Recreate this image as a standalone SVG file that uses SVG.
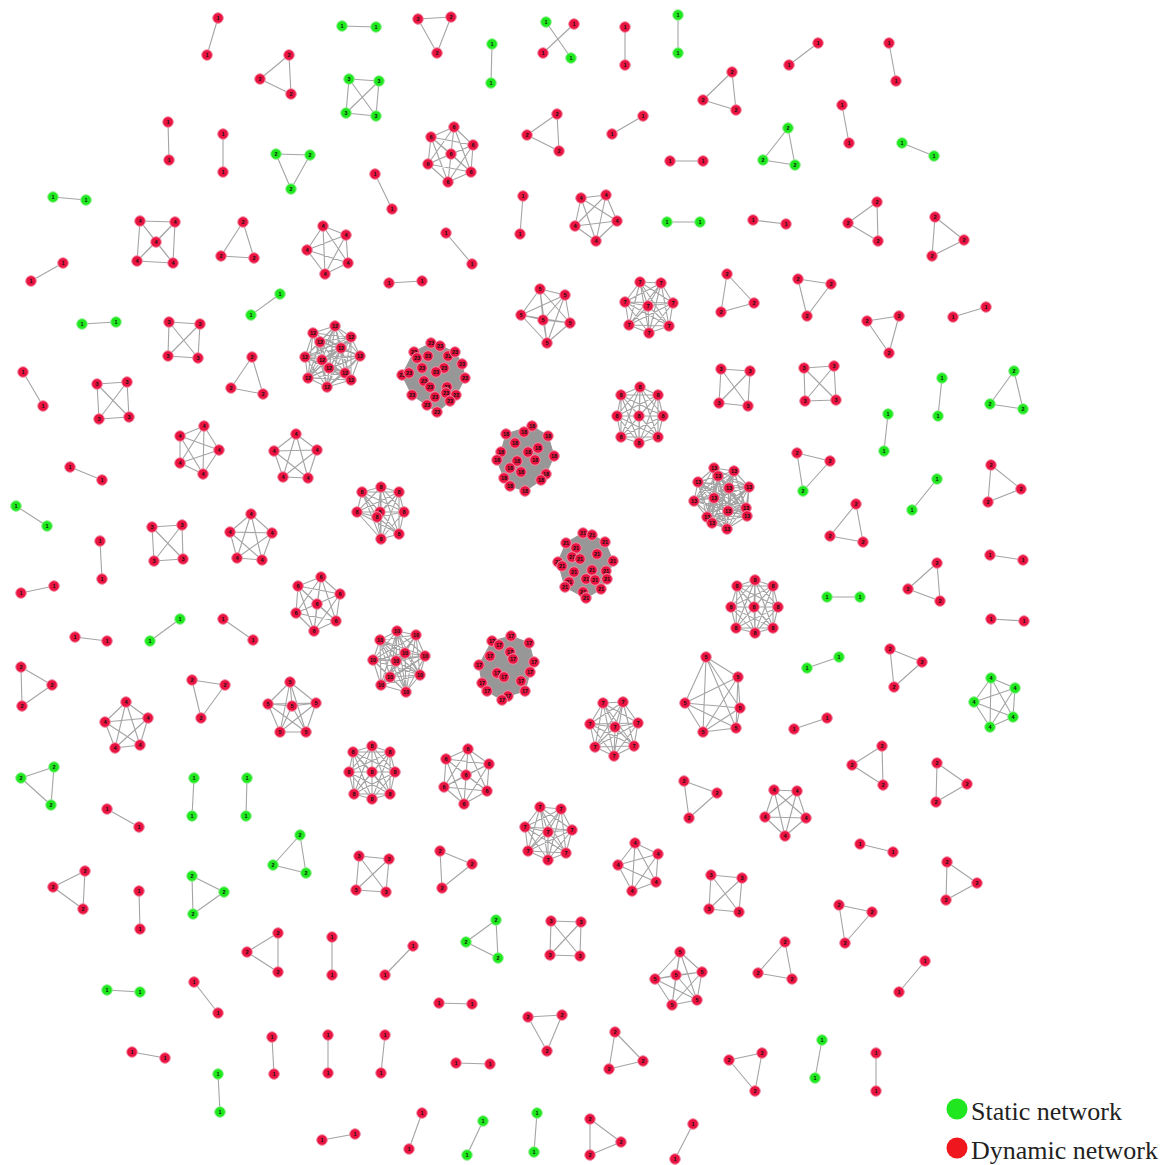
<svg xmlns="http://www.w3.org/2000/svg" xmlns:xlink="http://www.w3.org/1999/xlink" width="1172" height="1165" viewBox="0 0 1172 1165">
<style>
.e path{fill:none;stroke:#a4a4a4;stroke-width:1.1;stroke-linejoin:round}
.e path.h{fill:#979797;stroke:#979797}
.R circle{fill:#ea1442;stroke:#f38aa2;stroke-width:1}
.G circle{fill:#1fe81f;stroke:#90f090;stroke-width:1}
.n text{font-family:"Liberation Sans",Arial,sans-serif;font-size:5.5px;font-weight:bold;text-anchor:middle;fill:#111}
.lg{font-family:"Liberation Serif","Times New Roman",serif;font-size:26px;fill:#222}
</style>
<defs>
<g id="r1" class="n R"><circle r="5.3"/><text y="2">1</text></g>
<g id="r2" class="n R"><circle r="5.3"/><text y="2">2</text></g>
<g id="r3" class="n R"><circle r="5.3"/><text y="2">3</text></g>
<g id="r4" class="n R"><circle r="5.3"/><text y="2">4</text></g>
<g id="r5" class="n R"><circle r="5.3"/><text y="2">5</text></g>
<g id="r6" class="n R"><circle r="5.3"/><text y="2">6</text></g>
<g id="r7" class="n R"><circle r="5.3"/><text y="2">7</text></g>
<g id="r8" class="n R"><circle r="5.3"/><text y="2">8</text></g>
<g id="r10" class="n R"><circle r="5.3"/><text y="2">10</text></g>
<g id="r12" class="n R"><circle r="5.3"/><text y="2">12</text></g>
<g id="r13" class="n R"><circle r="5.3"/><text y="2">13</text></g>
<g id="r17" class="n R"><circle r="5.3"/><text y="2">17</text></g>
<g id="r18" class="n R"><circle r="5.3"/><text y="2">18</text></g>
<g id="r21" class="n R"><circle r="5.3"/><text y="2">21</text></g>
<g id="r23" class="n R"><circle r="5.3"/><text y="2">23</text></g>
<g id="g1" class="n G"><circle r="5.3"/><text y="2">1</text></g>
<g id="g2" class="n G"><circle r="5.3"/><text y="2">2</text></g>
<g id="g3" class="n G"><circle r="5.3"/><text y="2">3</text></g>
<g id="g4" class="n G"><circle r="5.3"/><text y="2">4</text></g>
</defs>
<rect width="1172" height="1165" fill="#fff"/>
<g id="connectors" class="e">
<path d="M218 18L207 55"/>
<path d="M289 55L260 79L291 94Z"/>
<path d="M342 26L376 27"/>
<path d="M418 19L451 17L437 53Z"/>
<path d="M546 22L571 58"/>
<path d="M574 24L543 53"/>
<path d="M492 44L491 83"/>
<path d="M349 79L379 81L376 116L346 113Z M349 79L376 116M379 81L346 113"/>
<path d="M625 27L625 65"/>
<path d="M678 15L678 53"/>
<path d="M818 43L789 65"/>
<path d="M889 43L896 81"/>
<path d="M732 72L703 100L736 110Z"/>
<path d="M557 114L527 135L559 151Z"/>
<path d="M454 127L431 137L473 145L451 154L428 164L471 172L448 182Z M454 127L473 145L428 164L448 182L431 137L451 154L471 172Z M454 127L451 154L448 182L473 145L471 172L431 137L428 164Z"/>
<path d="M168 122L169 160"/>
<path d="M223 134L223 172"/>
<path d="M276 154L310 155L291 189Z"/>
<path d="M375 174L392 209"/>
<path d="M612 134L643 116"/>
<path d="M670 161L703 161"/>
<path d="M788 128L763 160L795 165Z"/>
<path d="M842 105L849 143"/>
<path d="M902 143L934 156"/>
<path d="M53 197L86 200"/>
<path d="M140 221L175 222L156 242L137 261L173 263Z M140 221L156 242L173 263L175 222L137 261Z"/>
<path d="M243 222L221 256L254 258Z"/>
<path d="M323 226L346 235L307 250L348 263L325 274Z M323 226L307 250L325 274L346 235L348 263Z"/>
<path d="M446 233L472 264"/>
<path d="M389 283L422 281"/>
<path d="M523 196L520 234"/>
<path d="M581 198L606 195L575 226L617 221L596 241Z M581 198L575 226L596 241L606 195L617 221Z"/>
<path d="M667 222L700 222"/>
<path d="M753 220L786 224"/>
<path d="M877 202L848 223L878 241Z"/>
<path d="M935 217L964 240L932 256Z"/>
<path d="M31 281L63 263"/>
<path d="M251 315L280 294"/>
<path d="M82 324L116 322"/>
<path d="M169 322L200 324L198 358L168 356Z M169 322L198 358M200 324L168 356"/>
<path d="M252 357L231 388L263 394Z"/>
<path d="M335 326L313 333L351 337L320 342L341 348L305 357L360 356L322 360L329 368L345 373L308 378L351 380L327 387Z M335 326L351 337L341 348L360 356L329 368L308 378L327 387L313 333L320 342L305 357L322 360L345 373L351 380Z M335 326L320 342L360 356L345 373L327 387L351 337L305 357L329 368L351 380L313 333L341 348L322 360L308 378Z M335 326L341 348L329 368L327 387L320 342L322 360L351 380L351 337L360 356L308 378L313 333L305 357L345 373Z M335 326L305 357L308 378L351 337L322 360L327 387L341 348L345 373L313 333L360 356L351 380L320 342L329 368Z M335 326L360 356L327 387L305 357L351 380L341 348L308 378L320 342L345 373L351 337L329 368L313 333L322 360Z"/>
<path class="h" d="M431 343L440 346L455 352L462 364L465 378L456 395L450 401L437 412L427 405L412 395L402 375L414 352Z"/>
<path d="M540 289L565 295L570 323L547 343L521 315Z M540 289L570 323L521 315L565 295L547 343Z M543 320L540 289M543 320L565 295M543 320L570 323M543 320L547 343M543 320L521 315"/>
<path d="M640 282L661 283L673 303L669 326L649 333L629 325L625 302Z M640 282L673 303L649 333L625 302L661 283L669 326L629 325Z M640 282L669 326L625 302L673 303L629 325L661 283L649 333Z M648 306L640 282M648 306L661 283M648 306L673 303M648 306L669 326M648 306L649 333M648 306L629 325M648 306L625 302"/>
<path d="M727 274L721 312L754 303Z"/>
<path d="M798 279L831 284L807 316Z"/>
<path d="M867 321L899 316L889 353Z"/>
<path d="M953 317L986 307"/>
<path d="M1014 371L990 404L1023 409Z"/>
<path d="M942 378L938 416"/>
<path d="M721 369L750 371L748 406L719 403Z M721 369L748 406M750 371L719 403"/>
<path d="M804 368L834 366L836 400L805 401Z M804 368L836 400M834 366L805 401"/>
<path d="M640 387L658 395L663 416L658 437L639 443L621 437L617 416L621 395L639 416Z M640 387L663 416L639 443L617 416L639 416L658 395L658 437L621 437L621 395Z M640 387L639 443L639 416L658 437L621 395L663 416L617 416L658 395L621 437Z M640 387L658 437L617 416Z M658 395L639 443L621 395Z M663 416L621 437L639 416Z"/>
<path d="M23 372L43 406"/>
<path d="M97 384L127 382L129 417L99 419Z M97 384L129 417M127 382L99 419"/>
<path d="M204 426L219 450L203 474L180 463L180 436Z M204 426L203 474L180 436L219 450L180 463Z"/>
<path d="M296 434L317 450L308 478L283 477L274 451Z M296 434L308 478L274 451L317 450L283 477Z"/>
<path class="h" d="M532 426L548 436L554 456L546 474L541 480L525 491L510 486L504 478L497 460L501 452L506 434Z"/>
<path d="M70 467L102 480"/>
<path d="M16 506L47 526"/>
<path d="M100 541L102 579"/>
<path d="M152 527L182 525L183 559L154 561Z M152 527L183 559M182 525L154 561"/>
<path d="M251 514L272 533L262 560L237 558L230 532Z M251 514L262 560L230 532L272 533L237 558Z"/>
<path d="M381 487L399 492L404 512L399 534L381 539L357 512L362 492L380 512L377 517Z M381 487L404 512L381 539L362 492L377 517L399 492L399 534L357 512L380 512Z M381 487L381 539L377 517L399 534L380 512L404 512L362 492L399 492L357 512Z M381 487L399 534L362 492Z M399 492L381 539L380 512Z M404 512L357 512L377 517Z"/>
<path class="h" d="M583 533L592 535L605 542L613 561L607 579L601 589L586 598L565 587L558 562L566 543Z"/>
<path d="M714 468L734 471L718 476L698 482L749 487L729 488L694 501L714 498L728 511L746 508L747 516L707 517L712 523Z M714 468L718 476L749 487L694 501L728 511L747 516L712 523L734 471L698 482L729 488L714 498L746 508L707 517Z M714 468L698 482L694 501L746 508L712 523L718 476L729 488L728 511L707 517L734 471L749 487L714 498L747 516Z M714 468L749 487L728 511L712 523L698 482L714 498L707 517L718 476L694 501L747 516L734 471L729 488L746 508Z M714 468L729 488L747 516L718 476L714 498L712 523L749 487L746 508L734 471L694 501L707 517L698 482L728 511Z M714 468L694 501L712 523L729 488L707 517L749 487L747 516L698 482L746 508L718 476L728 511L734 471L714 498Z M727 529L714 468M727 529L734 471M727 529L718 476M727 529L698 482M727 529L749 487M727 529L729 488M727 529L694 501M727 529L714 498M727 529L728 511M727 529L746 508M727 529L747 516M727 529L707 517M727 529L712 523"/>
<path d="M797 453L830 461L803 491Z"/>
<path d="M856 504L830 536L863 542Z"/>
<path d="M888 414L884 451"/>
<path d="M937 479L912 510"/>
<path d="M991 465L1021 489L988 502Z"/>
<path d="M990 555L1023 560"/>
<path d="M937 563L908 589L940 601Z"/>
<path d="M991 619L1024 621"/>
<path d="M755 580L773 586L778 607L773 628L755 633L736 628L731 607L737 586L754 607Z M755 580L778 607L755 633L731 607L754 607L773 586L773 628L736 628L737 586Z M755 580L755 633L754 607L773 628L737 586L778 607L731 607L773 586L736 628Z M755 580L773 628L731 607Z M773 586L755 633L737 586Z M778 607L736 628L754 607Z"/>
<path d="M827 597L860 597"/>
<path d="M21 593L54 586"/>
<path d="M75 637L107 641"/>
<path d="M150 641L180 619"/>
<path d="M223 619L253 640"/>
<path d="M321 577L340 594L336 621L314 631L296 613L298 586L317 604Z M321 577L336 621L296 613L317 604L340 594L314 631L298 586Z M321 577L314 631L317 604L336 621L298 586L340 594L296 613Z"/>
<path d="M21 667L52 685L22 706Z"/>
<path d="M192 680L225 685L201 718Z"/>
<path d="M126 702L148 718L140 745L115 748L105 722Z M126 702L140 745L105 722L148 718L115 748Z"/>
<path d="M290 682L316 703L306 732L280 732L268 704Z M290 682L306 732L268 704L316 703L280 732Z M292 706L290 682M292 706L316 703M292 706L306 732M292 706L280 732M292 706L268 704"/>
<path d="M397 631L416 635L380 640L405 653L425 656L373 660L396 661L390 677L420 675L381 685L406 692Z M397 631L380 640L425 656L396 661L420 675L406 692L416 635L405 653L373 660L390 677L381 685Z M397 631L405 653L396 661L381 685L416 635L425 656L390 677L406 692L380 640L373 660L420 675Z M397 631L425 656L420 675L416 635L373 660L381 685L380 640L396 661L406 692L405 653L390 677Z M397 631L373 660L406 692L425 656L381 685L405 653L420 675L380 640L390 677L416 635L396 661Z"/>
<path class="h" d="M511 636L529 643L534 662L530 672L525 691L508 696L502 700L487 691L482 683L479 665L492 641Z"/>
<path d="M706 657L738 677L740 708L736 728L703 732Z M706 657L740 708L703 732L738 677L736 728Z M685 703L706 657M685 703L738 677M685 703L740 708M685 703L736 728M685 703L703 732"/>
<path d="M807 668L839 657"/>
<path d="M794 729L827 718"/>
<path d="M890 649L922 662L894 687Z"/>
<path d="M991 678L1015 688L1013 717L990 727L974 702Z M991 678L1013 717L974 702L1015 688L990 727Z"/>
<path d="M603 703L623 702L638 723L634 746L614 756L595 747L590 724Z M603 703L638 723L614 756L590 724L623 702L634 746L595 747Z M603 703L634 746L590 724L638 723L595 747L623 702L614 756Z M615 727L603 703M615 727L623 702M615 727L638 723M615 727L634 746M615 727L614 756M615 727L595 747M615 727L590 724"/>
<path d="M882 746L852 765L883 785Z"/>
<path d="M937 763L967 784L936 802Z"/>
<path d="M54 767L21 778L51 805Z"/>
<path d="M194 778L192 816"/>
<path d="M247 778L246 816"/>
<path d="M107 809L139 827"/>
<path d="M372 746L390 752L395 772L390 794L372 799L354 794L349 772L353 752L372 772Z M372 746L395 772L372 799L349 772L372 772L390 752L390 794L354 794L353 752Z M372 746L372 799L372 772L390 794L353 752L395 772L349 772L390 752L354 794Z M372 746L390 794L349 772Z M390 752L372 799L353 752Z M395 772L354 794L372 772Z"/>
<path d="M468 749L489 764L487 791L464 804L444 787L446 759L466 775Z M468 749L487 791L444 787L466 775L489 764L464 804L446 759Z M468 749L464 804L466 775L487 791L446 759L489 764L444 787Z"/>
<path d="M540 807L561 809L572 830L566 853L548 860L528 851L525 827Z M540 807L572 830L548 860L525 827L561 809L566 853L528 851Z M540 807L566 853L525 827L572 830L528 851L561 809L548 860Z M548 832L540 807M548 832L561 809M548 832L572 830M548 832L566 853M548 832L548 860M548 832L528 851M548 832L525 827"/>
<path d="M774 790L797 791L806 818L785 836L765 817Z M774 790L806 818L765 817L797 791L785 836Z"/>
<path d="M684 781L717 793L689 818Z"/>
<path d="M860 844L893 852"/>
<path d="M947 862L977 883L946 900Z"/>
<path d="M635 843L658 854L656 882L632 891L618 865Z M635 843L656 882L618 865L658 854L632 891Z"/>
<path d="M711 875L742 878L739 912L709 909Z M711 875L739 912M742 878L709 909"/>
<path d="M839 905L872 912L845 943Z"/>
<path d="M359 856L389 859L386 892L356 890Z M359 856L386 892M389 859L356 890"/>
<path d="M440 851L472 864L442 888Z"/>
<path d="M300 835L273 865L306 873Z"/>
<path d="M85 871L53 887L83 909Z"/>
<path d="M139 891L140 929"/>
<path d="M192 876L224 892L193 914Z"/>
<path d="M278 933L247 952L278 972Z"/>
<path d="M194 982L218 1013"/>
<path d="M107 990L140 992"/>
<path d="M132 1052L165 1058"/>
<path d="M218 1074L220 1112"/>
<path d="M272 1037L274 1074"/>
<path d="M332 937L332 975"/>
<path d="M413 946L385 975"/>
<path d="M496 920L466 942L498 958Z"/>
<path d="M551 921L581 922L580 956L550 955Z M551 921L580 956M581 922L550 955"/>
<path d="M439 1003L472 1004"/>
<path d="M528 1017L562 1015L547 1051Z"/>
<path d="M328 1035L328 1073"/>
<path d="M385 1035L381 1073"/>
<path d="M456 1063L490 1064"/>
<path d="M322 1140L355 1134"/>
<path d="M422 1113L409 1149"/>
<path d="M483 1121L467 1155"/>
<path d="M537 1113L534 1152"/>
<path d="M680 952L702 972L697 1000L672 1005L655 979Z M680 952L697 1000L655 979L702 972L672 1005Z M676 975L680 952M676 975L702 972M676 975L697 1000M676 975L672 1005M676 975L655 979"/>
<path d="M785 942L758 973L792 979Z"/>
<path d="M615 1032L609 1069L643 1061Z"/>
<path d="M729 1060L762 1053L755 1091Z"/>
<path d="M822 1040L815 1078"/>
<path d="M876 1053L876 1091"/>
<path d="M590 1119L621 1142L590 1155Z"/>
<path d="M693 1124L675 1159"/>
<path d="M925 961L899 992"/>
</g>
<g id="nodes">
<g id="c1"><use id="c1a" href="#r1" x="218" y="18"/><use id="c1b" href="#r1" x="207" y="55"/></g>
<g id="c2"><use id="c2a" href="#r2" x="289" y="55"/><use id="c2b" href="#r2" x="260" y="79"/><use id="c2c" href="#r2" x="291" y="94"/></g>
<g id="c3"><use id="c3a" href="#g1" x="342" y="26"/><use id="c3b" href="#g1" x="376" y="27"/></g>
<g id="c4"><use id="c4a" href="#r2" x="418" y="19"/><use id="c4b" href="#r2" x="451" y="17"/><use id="c4c" href="#r2" x="437" y="53"/></g>
<g id="c5"><use id="c5a" href="#g1" x="546" y="22"/><use id="c5b" href="#g1" x="571" y="58"/><use id="c5c" href="#r1" x="574" y="24"/><use id="c5d" href="#r1" x="543" y="53"/></g>
<g id="c6"><use id="c6a" href="#g1" x="492" y="44"/><use id="c6b" href="#g1" x="491" y="83"/></g>
<g id="c7"><use id="c7a" href="#g3" x="349" y="79"/><use id="c7b" href="#g3" x="379" y="81"/><use id="c7c" href="#g3" x="346" y="113"/><use id="c7d" href="#g3" x="376" y="116"/></g>
<g id="c8"><use id="c8a" href="#r1" x="625" y="27"/><use id="c8b" href="#r1" x="625" y="65"/></g>
<g id="c9"><use id="c9a" href="#g1" x="678" y="15"/><use id="c9b" href="#g1" x="678" y="53"/></g>
<g id="c10"><use id="c10a" href="#r1" x="818" y="43"/><use id="c10b" href="#r1" x="789" y="65"/></g>
<g id="c11"><use id="c11a" href="#r1" x="889" y="43"/><use id="c11b" href="#r1" x="896" y="81"/></g>
<g id="c12"><use id="c12a" href="#r2" x="732" y="72"/><use id="c12b" href="#r2" x="703" y="100"/><use id="c12c" href="#r2" x="736" y="110"/></g>
<g id="c13"><use id="c13a" href="#r2" x="557" y="114"/><use id="c13b" href="#r2" x="527" y="135"/><use id="c13c" href="#r2" x="559" y="151"/></g>
<g id="c14"><use id="c14a" href="#r6" x="454" y="127"/><use id="c14b" href="#r6" x="431" y="137"/><use id="c14c" href="#r6" x="473" y="145"/><use id="c14d" href="#r6" x="451" y="154"/><use id="c14e" href="#r6" x="428" y="164"/><use id="c14f" href="#r6" x="471" y="172"/><use id="c14g" href="#r6" x="448" y="182"/></g>
<g id="c15"><use id="c15a" href="#r1" x="168" y="122"/><use id="c15b" href="#r1" x="169" y="160"/></g>
<g id="c16"><use id="c16a" href="#r1" x="223" y="134"/><use id="c16b" href="#r1" x="223" y="172"/></g>
<g id="c17"><use id="c17a" href="#g2" x="276" y="154"/><use id="c17b" href="#g2" x="310" y="155"/><use id="c17c" href="#g2" x="291" y="189"/></g>
<g id="c18"><use id="c18a" href="#r1" x="375" y="174"/><use id="c18b" href="#r1" x="392" y="209"/></g>
<g id="c19"><use id="c19a" href="#r1" x="612" y="134"/><use id="c19b" href="#r1" x="643" y="116"/></g>
<g id="c20"><use id="c20a" href="#r1" x="670" y="161"/><use id="c20b" href="#r1" x="703" y="161"/></g>
<g id="c21"><use id="c21a" href="#g2" x="788" y="128"/><use id="c21b" href="#g2" x="763" y="160"/><use id="c21c" href="#g2" x="795" y="165"/></g>
<g id="c22"><use id="c22a" href="#r1" x="842" y="105"/><use id="c22b" href="#r1" x="849" y="143"/></g>
<g id="c23"><use id="c23a" href="#g1" x="902" y="143"/><use id="c23b" href="#g1" x="934" y="156"/></g>
<g id="c24"><use id="c24a" href="#g1" x="53" y="197"/><use id="c24b" href="#g1" x="86" y="200"/></g>
<g id="c25"><use id="c25a" href="#r4" x="140" y="221"/><use id="c25b" href="#r4" x="175" y="222"/><use id="c25c" href="#r4" x="156" y="242"/><use id="c25d" href="#r4" x="137" y="261"/><use id="c25e" href="#r4" x="173" y="263"/></g>
<g id="c26"><use id="c26a" href="#r2" x="243" y="222"/><use id="c26b" href="#r2" x="221" y="256"/><use id="c26c" href="#r2" x="254" y="258"/></g>
<g id="c27"><use id="c27a" href="#r4" x="323" y="226"/><use id="c27b" href="#r4" x="346" y="235"/><use id="c27c" href="#r4" x="307" y="250"/><use id="c27d" href="#r4" x="348" y="263"/><use id="c27e" href="#r4" x="325" y="274"/></g>
<g id="c28"><use id="c28a" href="#r1" x="446" y="233"/><use id="c28b" href="#r1" x="472" y="264"/></g>
<g id="c29"><use id="c29a" href="#r1" x="389" y="283"/><use id="c29b" href="#r1" x="422" y="281"/></g>
<g id="c30"><use id="c30a" href="#r1" x="523" y="196"/><use id="c30b" href="#r1" x="520" y="234"/></g>
<g id="c31"><use id="c31a" href="#r4" x="581" y="198"/><use id="c31b" href="#r4" x="606" y="195"/><use id="c31c" href="#r4" x="575" y="226"/><use id="c31d" href="#r4" x="617" y="221"/><use id="c31e" href="#r4" x="596" y="241"/></g>
<g id="c32"><use id="c32a" href="#g1" x="667" y="222"/><use id="c32b" href="#g1" x="700" y="222"/></g>
<g id="c33"><use id="c33a" href="#r1" x="753" y="220"/><use id="c33b" href="#r1" x="786" y="224"/></g>
<g id="c34"><use id="c34a" href="#r2" x="877" y="202"/><use id="c34b" href="#r2" x="848" y="223"/><use id="c34c" href="#r2" x="878" y="241"/></g>
<g id="c35"><use id="c35a" href="#r2" x="935" y="217"/><use id="c35b" href="#r2" x="964" y="240"/><use id="c35c" href="#r2" x="932" y="256"/></g>
<g id="c36"><use id="c36a" href="#r1" x="31" y="281"/><use id="c36b" href="#r1" x="63" y="263"/></g>
<g id="c37"><use id="c37a" href="#g1" x="251" y="315"/><use id="c37b" href="#g1" x="280" y="294"/></g>
<g id="c38"><use id="c38a" href="#g1" x="82" y="324"/><use id="c38b" href="#g1" x="116" y="322"/></g>
<g id="c39"><use id="c39a" href="#r3" x="169" y="322"/><use id="c39b" href="#r3" x="200" y="324"/><use id="c39c" href="#r3" x="168" y="356"/><use id="c39d" href="#r3" x="198" y="358"/></g>
<g id="c40"><use id="c40a" href="#r2" x="252" y="357"/><use id="c40b" href="#r2" x="231" y="388"/><use id="c40c" href="#r2" x="263" y="394"/></g>
<g id="c41"><use id="c41a" href="#r12" x="335" y="326"/><use id="c41b" href="#r12" x="313" y="333"/><use id="c41c" href="#r12" x="351" y="337"/><use id="c41d" href="#r12" x="320" y="342"/><use id="c41e" href="#r12" x="341" y="348"/><use id="c41f" href="#r12" x="305" y="357"/><use id="c41g" href="#r12" x="360" y="356"/><use id="c41h" href="#r12" x="322" y="360"/><use id="c41i" href="#r12" x="329" y="368"/><use id="c41j" href="#r12" x="345" y="373"/><use id="c41k" href="#r12" x="308" y="378"/><use id="c41l" href="#r12" x="351" y="380"/><use id="c41m" href="#r12" x="327" y="387"/></g>
<g id="c42"><use id="c42a" href="#r23" x="431" y="343"/><use id="c42b" href="#r23" x="440" y="346"/><use id="c42c" href="#r23" x="414" y="352"/><use id="c42d" href="#r23" x="417" y="358"/><use id="c42e" href="#r23" x="428" y="356"/><use id="c42f" href="#r23" x="448" y="356"/><use id="c42g" href="#r23" x="455" y="352"/><use id="c42h" href="#r23" x="422" y="368"/><use id="c42i" href="#r23" x="444" y="368"/><use id="c42j" href="#r23" x="436" y="372"/><use id="c42k" href="#r23" x="402" y="375"/><use id="c42l" href="#r23" x="409" y="373"/><use id="c42m" href="#r23" x="465" y="378"/><use id="c42n" href="#r23" x="424" y="381"/><use id="c42o" href="#r23" x="430" y="387"/><use id="c42p" href="#r23" x="447" y="387"/><use id="c42q" href="#r23" x="412" y="395"/><use id="c42r" href="#r23" x="435" y="397"/><use id="c42s" href="#r23" x="446" y="393"/><use id="c42t" href="#r23" x="456" y="395"/><use id="c42u" href="#r23" x="427" y="405"/><use id="c42v" href="#r23" x="450" y="401"/><use id="c42w" href="#r23" x="437" y="412"/><use id="c42x" href="#r23" x="462" y="364"/></g>
<g id="c43"><use id="c43a" href="#r5" x="540" y="289"/><use id="c43b" href="#r5" x="565" y="295"/><use id="c43c" href="#r5" x="521" y="315"/><use id="c43d" href="#r5" x="543" y="320"/><use id="c43e" href="#r5" x="570" y="323"/><use id="c43f" href="#r5" x="547" y="343"/></g>
<g id="c44"><use id="c44a" href="#r7" x="640" y="282"/><use id="c44b" href="#r7" x="661" y="283"/><use id="c44c" href="#r7" x="625" y="302"/><use id="c44d" href="#r7" x="648" y="306"/><use id="c44e" href="#r7" x="673" y="303"/><use id="c44f" href="#r7" x="629" y="325"/><use id="c44g" href="#r7" x="669" y="326"/><use id="c44h" href="#r7" x="649" y="333"/></g>
<g id="c45"><use id="c45a" href="#r2" x="727" y="274"/><use id="c45b" href="#r2" x="721" y="312"/><use id="c45c" href="#r2" x="754" y="303"/></g>
<g id="c46"><use id="c46a" href="#r2" x="798" y="279"/><use id="c46b" href="#r2" x="831" y="284"/><use id="c46c" href="#r2" x="807" y="316"/></g>
<g id="c47"><use id="c47a" href="#r2" x="867" y="321"/><use id="c47b" href="#r2" x="899" y="316"/><use id="c47c" href="#r2" x="889" y="353"/></g>
<g id="c48"><use id="c48a" href="#r1" x="953" y="317"/><use id="c48b" href="#r1" x="986" y="307"/></g>
<g id="c49"><use id="c49a" href="#g2" x="1014" y="371"/><use id="c49b" href="#g2" x="990" y="404"/><use id="c49c" href="#g2" x="1023" y="409"/></g>
<g id="c50"><use id="c50a" href="#g1" x="942" y="378"/><use id="c50b" href="#g1" x="938" y="416"/></g>
<g id="c51"><use id="c51a" href="#r3" x="721" y="369"/><use id="c51b" href="#r3" x="750" y="371"/><use id="c51c" href="#r3" x="719" y="403"/><use id="c51d" href="#r3" x="748" y="406"/></g>
<g id="c52"><use id="c52a" href="#r3" x="804" y="368"/><use id="c52b" href="#r3" x="834" y="366"/><use id="c52c" href="#r3" x="805" y="401"/><use id="c52d" href="#r3" x="836" y="400"/></g>
<g id="c53"><use id="c53a" href="#r8" x="640" y="387"/><use id="c53b" href="#r8" x="658" y="395"/><use id="c53c" href="#r8" x="663" y="416"/><use id="c53d" href="#r8" x="658" y="437"/><use id="c53e" href="#r8" x="639" y="443"/><use id="c53f" href="#r8" x="621" y="437"/><use id="c53g" href="#r8" x="617" y="416"/><use id="c53h" href="#r8" x="621" y="395"/><use id="c53i" href="#r8" x="639" y="416"/></g>
<g id="c54"><use id="c54a" href="#r1" x="23" y="372"/><use id="c54b" href="#r1" x="43" y="406"/></g>
<g id="c55"><use id="c55a" href="#r3" x="97" y="384"/><use id="c55b" href="#r3" x="127" y="382"/><use id="c55c" href="#r3" x="99" y="419"/><use id="c55d" href="#r3" x="129" y="417"/></g>
<g id="c56"><use id="c56a" href="#r4" x="204" y="426"/><use id="c56b" href="#r4" x="219" y="450"/><use id="c56c" href="#r4" x="203" y="474"/><use id="c56d" href="#r4" x="180" y="463"/><use id="c56e" href="#r4" x="180" y="436"/></g>
<g id="c57"><use id="c57a" href="#r4" x="296" y="434"/><use id="c57b" href="#r4" x="317" y="450"/><use id="c57c" href="#r4" x="308" y="478"/><use id="c57d" href="#r4" x="283" y="477"/><use id="c57e" href="#r4" x="274" y="451"/></g>
<g id="c58"><use id="c58a" href="#r18" x="532" y="426"/><use id="c58b" href="#r18" x="506" y="434"/><use id="c58c" href="#r18" x="524" y="432"/><use id="c58d" href="#r18" x="548" y="436"/><use id="c58e" href="#r18" x="515" y="443"/><use id="c58f" href="#r18" x="538" y="448"/><use id="c58g" href="#r18" x="501" y="452"/><use id="c58h" href="#r18" x="554" y="456"/><use id="c58i" href="#r18" x="497" y="460"/><use id="c58j" href="#r18" x="517" y="461"/><use id="c58k" href="#r18" x="546" y="474"/><use id="c58l" href="#r18" x="521" y="472"/><use id="c58m" href="#r18" x="504" y="478"/><use id="c58n" href="#r18" x="541" y="480"/><use id="c58o" href="#r18" x="510" y="486"/><use id="c58p" href="#r18" x="525" y="491"/><use id="c58q" href="#r18" x="535" y="460"/><use id="c58r" href="#r18" x="528" y="452"/><use id="c58s" href="#r18" x="510" y="468"/></g>
<g id="c59"><use id="c59a" href="#r1" x="70" y="467"/><use id="c59b" href="#r1" x="102" y="480"/></g>
<g id="c60"><use id="c60a" href="#g1" x="16" y="506"/><use id="c60b" href="#g1" x="47" y="526"/></g>
<g id="c61"><use id="c61a" href="#r1" x="100" y="541"/><use id="c61b" href="#r1" x="102" y="579"/></g>
<g id="c62"><use id="c62a" href="#r3" x="152" y="527"/><use id="c62b" href="#r3" x="182" y="525"/><use id="c62c" href="#r3" x="154" y="561"/><use id="c62d" href="#r3" x="183" y="559"/></g>
<g id="c63"><use id="c63a" href="#r4" x="251" y="514"/><use id="c63b" href="#r4" x="272" y="533"/><use id="c63c" href="#r4" x="262" y="560"/><use id="c63d" href="#r4" x="237" y="558"/><use id="c63e" href="#r4" x="230" y="532"/></g>
<g id="c64"><use id="c64a" href="#r8" x="381" y="487"/><use id="c64b" href="#r8" x="399" y="492"/><use id="c64c" href="#r8" x="404" y="512"/><use id="c64d" href="#r8" x="399" y="534"/><use id="c64e" href="#r8" x="381" y="539"/><use id="c64f" href="#r8" x="357" y="512"/><use id="c64g" href="#r8" x="362" y="492"/><use id="c64h" href="#r8" x="380" y="512"/><use id="c64i" href="#r8" x="377" y="517"/></g>
<g id="c65"><use id="c65a" href="#r21" x="583" y="533"/><use id="c65b" href="#r21" x="592" y="535"/><use id="c65c" href="#r21" x="566" y="543"/><use id="c65d" href="#r21" x="605" y="542"/><use id="c65e" href="#r21" x="576" y="548"/><use id="c65f" href="#r21" x="597" y="554"/><use id="c65g" href="#r21" x="572" y="557"/><use id="c65h" href="#r21" x="580" y="559"/><use id="c65i" href="#r21" x="558" y="562"/><use id="c65j" href="#r21" x="613" y="561"/><use id="c65k" href="#r21" x="562" y="566"/><use id="c65l" href="#r21" x="606" y="571"/><use id="c65m" href="#r21" x="592" y="570"/><use id="c65n" href="#r21" x="574" y="572"/><use id="c65o" href="#r21" x="569" y="582"/><use id="c65p" href="#r21" x="586" y="579"/><use id="c65q" href="#r21" x="607" y="579"/><use id="c65r" href="#r21" x="565" y="587"/><use id="c65s" href="#r21" x="601" y="589"/><use id="c65t" href="#r21" x="583" y="592"/><use id="c65u" href="#r21" x="586" y="598"/><use id="c65v" href="#r21" x="595" y="580"/></g>
<g id="c66"><use id="c66a" href="#r13" x="714" y="468"/><use id="c66b" href="#r13" x="734" y="471"/><use id="c66c" href="#r13" x="718" y="476"/><use id="c66d" href="#r13" x="698" y="482"/><use id="c66e" href="#r13" x="749" y="487"/><use id="c66f" href="#r13" x="729" y="488"/><use id="c66g" href="#r13" x="694" y="501"/><use id="c66h" href="#r13" x="714" y="498"/><use id="c66i" href="#r13" x="728" y="511"/><use id="c66j" href="#r13" x="746" y="508"/><use id="c66k" href="#r13" x="747" y="516"/><use id="c66l" href="#r13" x="707" y="517"/><use id="c66m" href="#r13" x="712" y="523"/><use id="c66n" href="#r13" x="727" y="529"/></g>
<g id="c67"><use id="c67a" href="#r2" x="797" y="453"/><use id="c67b" href="#r2" x="830" y="461"/><use id="c67c" href="#g2" x="803" y="491"/></g>
<g id="c68"><use id="c68a" href="#r2" x="856" y="504"/><use id="c68b" href="#r2" x="830" y="536"/><use id="c68c" href="#r2" x="863" y="542"/></g>
<g id="c69"><use id="c69a" href="#g1" x="888" y="414"/><use id="c69b" href="#g1" x="884" y="451"/></g>
<g id="c70"><use id="c70a" href="#g1" x="937" y="479"/><use id="c70b" href="#g1" x="912" y="510"/></g>
<g id="c71"><use id="c71a" href="#r2" x="991" y="465"/><use id="c71b" href="#r2" x="1021" y="489"/><use id="c71c" href="#r2" x="988" y="502"/></g>
<g id="c72"><use id="c72a" href="#r1" x="990" y="555"/><use id="c72b" href="#r1" x="1023" y="560"/></g>
<g id="c73"><use id="c73a" href="#r2" x="937" y="563"/><use id="c73b" href="#r2" x="908" y="589"/><use id="c73c" href="#r2" x="940" y="601"/></g>
<g id="c74"><use id="c74a" href="#r1" x="991" y="619"/><use id="c74b" href="#r1" x="1024" y="621"/></g>
<g id="c75"><use id="c75a" href="#r8" x="755" y="580"/><use id="c75b" href="#r8" x="773" y="586"/><use id="c75c" href="#r8" x="778" y="607"/><use id="c75d" href="#r8" x="773" y="628"/><use id="c75e" href="#r8" x="755" y="633"/><use id="c75f" href="#r8" x="736" y="628"/><use id="c75g" href="#r8" x="731" y="607"/><use id="c75h" href="#r8" x="737" y="586"/><use id="c75i" href="#r8" x="754" y="607"/></g>
<g id="c76"><use id="c76a" href="#g1" x="827" y="597"/><use id="c76b" href="#g1" x="860" y="597"/></g>
<g id="c77"><use id="c77a" href="#r1" x="21" y="593"/><use id="c77b" href="#r1" x="54" y="586"/></g>
<g id="c78"><use id="c78a" href="#r1" x="75" y="637"/><use id="c78b" href="#r1" x="107" y="641"/></g>
<g id="c79"><use id="c79a" href="#g1" x="150" y="641"/><use id="c79b" href="#g1" x="180" y="619"/></g>
<g id="c80"><use id="c80a" href="#r1" x="223" y="619"/><use id="c80b" href="#r1" x="253" y="640"/></g>
<g id="c81"><use id="c81a" href="#r6" x="321" y="577"/><use id="c81b" href="#r6" x="340" y="594"/><use id="c81c" href="#r6" x="336" y="621"/><use id="c81d" href="#r6" x="314" y="631"/><use id="c81e" href="#r6" x="296" y="613"/><use id="c81f" href="#r6" x="298" y="586"/><use id="c81g" href="#r6" x="317" y="604"/></g>
<g id="c82"><use id="c82a" href="#r2" x="21" y="667"/><use id="c82b" href="#r2" x="52" y="685"/><use id="c82c" href="#r2" x="22" y="706"/></g>
<g id="c83"><use id="c83a" href="#r2" x="192" y="680"/><use id="c83b" href="#r2" x="225" y="685"/><use id="c83c" href="#r2" x="201" y="718"/></g>
<g id="c84"><use id="c84a" href="#r4" x="126" y="702"/><use id="c84b" href="#r4" x="148" y="718"/><use id="c84c" href="#r4" x="140" y="745"/><use id="c84d" href="#r4" x="115" y="748"/><use id="c84e" href="#r4" x="105" y="722"/></g>
<g id="c85"><use id="c85a" href="#r5" x="290" y="682"/><use id="c85b" href="#r5" x="316" y="703"/><use id="c85c" href="#r5" x="306" y="732"/><use id="c85d" href="#r5" x="280" y="732"/><use id="c85e" href="#r5" x="268" y="704"/><use id="c85f" href="#r5" x="292" y="706"/></g>
<g id="c86"><use id="c86a" href="#r10" x="397" y="631"/><use id="c86b" href="#r10" x="416" y="635"/><use id="c86c" href="#r10" x="380" y="640"/><use id="c86d" href="#r10" x="405" y="653"/><use id="c86e" href="#r10" x="425" y="656"/><use id="c86f" href="#r10" x="373" y="660"/><use id="c86g" href="#r10" x="396" y="661"/><use id="c86h" href="#r10" x="390" y="677"/><use id="c86i" href="#r10" x="420" y="675"/><use id="c86j" href="#r10" x="381" y="685"/><use id="c86k" href="#r10" x="406" y="692"/></g>
<g id="c87"><use id="c87a" href="#r17" x="511" y="636"/><use id="c87b" href="#r17" x="492" y="641"/><use id="c87c" href="#r17" x="529" y="643"/><use id="c87d" href="#r17" x="499" y="645"/><use id="c87e" href="#r17" x="510" y="652"/><use id="c87f" href="#r17" x="513" y="659"/><use id="c87g" href="#r17" x="479" y="665"/><use id="c87h" href="#r17" x="534" y="662"/><use id="c87i" href="#r17" x="530" y="672"/><use id="c87j" href="#r17" x="497" y="673"/><use id="c87k" href="#r17" x="504" y="677"/><use id="c87l" href="#r17" x="482" y="683"/><use id="c87m" href="#r17" x="521" y="681"/><use id="c87n" href="#r17" x="487" y="691"/><use id="c87o" href="#r17" x="525" y="691"/><use id="c87p" href="#r17" x="508" y="696"/><use id="c87q" href="#r17" x="502" y="700"/><use id="c87r" href="#r17" x="490" y="656"/></g>
<g id="c88"><use id="c88a" href="#r5" x="706" y="657"/><use id="c88b" href="#r5" x="738" y="677"/><use id="c88c" href="#r5" x="740" y="708"/><use id="c88d" href="#r5" x="736" y="728"/><use id="c88e" href="#r5" x="703" y="732"/><use id="c88f" href="#r5" x="685" y="703"/></g>
<g id="c89"><use id="c89a" href="#g1" x="807" y="668"/><use id="c89b" href="#g1" x="839" y="657"/></g>
<g id="c90"><use id="c90a" href="#r1" x="794" y="729"/><use id="c90b" href="#r1" x="827" y="718"/></g>
<g id="c91"><use id="c91a" href="#r2" x="890" y="649"/><use id="c91b" href="#r2" x="922" y="662"/><use id="c91c" href="#r2" x="894" y="687"/></g>
<g id="c92"><use id="c92a" href="#g4" x="991" y="678"/><use id="c92b" href="#g4" x="1015" y="688"/><use id="c92c" href="#g4" x="1013" y="717"/><use id="c92d" href="#g4" x="990" y="727"/><use id="c92e" href="#g4" x="974" y="702"/></g>
<g id="c93"><use id="c93a" href="#r7" x="603" y="703"/><use id="c93b" href="#r7" x="623" y="702"/><use id="c93c" href="#r7" x="638" y="723"/><use id="c93d" href="#r7" x="634" y="746"/><use id="c93e" href="#r7" x="614" y="756"/><use id="c93f" href="#r7" x="595" y="747"/><use id="c93g" href="#r7" x="590" y="724"/><use id="c93h" href="#r7" x="615" y="727"/></g>
<g id="c94"><use id="c94a" href="#r2" x="882" y="746"/><use id="c94b" href="#r2" x="852" y="765"/><use id="c94c" href="#r2" x="883" y="785"/></g>
<g id="c95"><use id="c95a" href="#r2" x="937" y="763"/><use id="c95b" href="#r2" x="967" y="784"/><use id="c95c" href="#r2" x="936" y="802"/></g>
<g id="c96"><use id="c96a" href="#g2" x="54" y="767"/><use id="c96b" href="#g2" x="21" y="778"/><use id="c96c" href="#g2" x="51" y="805"/></g>
<g id="c97"><use id="c97a" href="#g1" x="194" y="778"/><use id="c97b" href="#g1" x="192" y="816"/></g>
<g id="c98"><use id="c98a" href="#g1" x="247" y="778"/><use id="c98b" href="#g1" x="246" y="816"/></g>
<g id="c99"><use id="c99a" href="#r1" x="107" y="809"/><use id="c99b" href="#r1" x="139" y="827"/></g>
<g id="c100"><use id="c100a" href="#r8" x="372" y="746"/><use id="c100b" href="#r8" x="390" y="752"/><use id="c100c" href="#r8" x="395" y="772"/><use id="c100d" href="#r8" x="390" y="794"/><use id="c100e" href="#r8" x="372" y="799"/><use id="c100f" href="#r8" x="354" y="794"/><use id="c100g" href="#r8" x="349" y="772"/><use id="c100h" href="#r8" x="353" y="752"/><use id="c100i" href="#r8" x="372" y="772"/></g>
<g id="c101"><use id="c101a" href="#r6" x="468" y="749"/><use id="c101b" href="#r6" x="489" y="764"/><use id="c101c" href="#r6" x="487" y="791"/><use id="c101d" href="#r6" x="464" y="804"/><use id="c101e" href="#r6" x="444" y="787"/><use id="c101f" href="#r6" x="446" y="759"/><use id="c101g" href="#r6" x="466" y="775"/></g>
<g id="c102"><use id="c102a" href="#r7" x="540" y="807"/><use id="c102b" href="#r7" x="561" y="809"/><use id="c102c" href="#r7" x="572" y="830"/><use id="c102d" href="#r7" x="566" y="853"/><use id="c102e" href="#r7" x="548" y="860"/><use id="c102f" href="#r7" x="528" y="851"/><use id="c102g" href="#r7" x="525" y="827"/><use id="c102h" href="#r7" x="548" y="832"/></g>
<g id="c103"><use id="c103a" href="#r4" x="774" y="790"/><use id="c103b" href="#r4" x="797" y="791"/><use id="c103c" href="#r4" x="806" y="818"/><use id="c103d" href="#r4" x="785" y="836"/><use id="c103e" href="#r4" x="765" y="817"/></g>
<g id="c104"><use id="c104a" href="#r2" x="684" y="781"/><use id="c104b" href="#r2" x="717" y="793"/><use id="c104c" href="#r2" x="689" y="818"/></g>
<g id="c105"><use id="c105a" href="#r1" x="860" y="844"/><use id="c105b" href="#r1" x="893" y="852"/></g>
<g id="c106"><use id="c106a" href="#r2" x="947" y="862"/><use id="c106b" href="#r2" x="977" y="883"/><use id="c106c" href="#r2" x="946" y="900"/></g>
<g id="c107"><use id="c107a" href="#r4" x="635" y="843"/><use id="c107b" href="#r4" x="658" y="854"/><use id="c107c" href="#r4" x="656" y="882"/><use id="c107d" href="#r4" x="632" y="891"/><use id="c107e" href="#r4" x="618" y="865"/></g>
<g id="c108"><use id="c108a" href="#r3" x="711" y="875"/><use id="c108b" href="#r3" x="742" y="878"/><use id="c108c" href="#r3" x="709" y="909"/><use id="c108d" href="#r3" x="739" y="912"/></g>
<g id="c109"><use id="c109a" href="#r2" x="839" y="905"/><use id="c109b" href="#r2" x="872" y="912"/><use id="c109c" href="#r2" x="845" y="943"/></g>
<g id="c110"><use id="c110a" href="#r3" x="359" y="856"/><use id="c110b" href="#r3" x="389" y="859"/><use id="c110c" href="#r3" x="356" y="890"/><use id="c110d" href="#r3" x="386" y="892"/></g>
<g id="c111"><use id="c111a" href="#r2" x="440" y="851"/><use id="c111b" href="#r2" x="472" y="864"/><use id="c111c" href="#r2" x="442" y="888"/></g>
<g id="c112"><use id="c112a" href="#g2" x="300" y="835"/><use id="c112b" href="#g2" x="273" y="865"/><use id="c112c" href="#g2" x="306" y="873"/></g>
<g id="c113"><use id="c113a" href="#r2" x="85" y="871"/><use id="c113b" href="#r2" x="53" y="887"/><use id="c113c" href="#r2" x="83" y="909"/></g>
<g id="c114"><use id="c114a" href="#r1" x="139" y="891"/><use id="c114b" href="#r1" x="140" y="929"/></g>
<g id="c115"><use id="c115a" href="#g2" x="192" y="876"/><use id="c115b" href="#g2" x="224" y="892"/><use id="c115c" href="#g2" x="193" y="914"/></g>
<g id="c116"><use id="c116a" href="#r2" x="278" y="933"/><use id="c116b" href="#r2" x="247" y="952"/><use id="c116c" href="#r2" x="278" y="972"/></g>
<g id="c117"><use id="c117a" href="#r1" x="194" y="982"/><use id="c117b" href="#r1" x="218" y="1013"/></g>
<g id="c118"><use id="c118a" href="#g1" x="107" y="990"/><use id="c118b" href="#g1" x="140" y="992"/></g>
<g id="c119"><use id="c119a" href="#r1" x="132" y="1052"/><use id="c119b" href="#r1" x="165" y="1058"/></g>
<g id="c120"><use id="c120a" href="#g1" x="218" y="1074"/><use id="c120b" href="#g1" x="220" y="1112"/></g>
<g id="c121"><use id="c121a" href="#r1" x="272" y="1037"/><use id="c121b" href="#r1" x="274" y="1074"/></g>
<g id="c122"><use id="c122a" href="#r1" x="332" y="937"/><use id="c122b" href="#r1" x="332" y="975"/></g>
<g id="c123"><use id="c123a" href="#r1" x="413" y="946"/><use id="c123b" href="#r1" x="385" y="975"/></g>
<g id="c124"><use id="c124a" href="#g2" x="496" y="920"/><use id="c124b" href="#g2" x="466" y="942"/><use id="c124c" href="#g2" x="498" y="958"/></g>
<g id="c125"><use id="c125a" href="#r3" x="551" y="921"/><use id="c125b" href="#r3" x="581" y="922"/><use id="c125c" href="#r3" x="550" y="955"/><use id="c125d" href="#r3" x="580" y="956"/></g>
<g id="c126"><use id="c126a" href="#r1" x="439" y="1003"/><use id="c126b" href="#r1" x="472" y="1004"/></g>
<g id="c127"><use id="c127a" href="#r2" x="528" y="1017"/><use id="c127b" href="#r2" x="562" y="1015"/><use id="c127c" href="#r2" x="547" y="1051"/></g>
<g id="c128"><use id="c128a" href="#r1" x="328" y="1035"/><use id="c128b" href="#r1" x="328" y="1073"/></g>
<g id="c129"><use id="c129a" href="#r1" x="385" y="1035"/><use id="c129b" href="#r1" x="381" y="1073"/></g>
<g id="c130"><use id="c130a" href="#r1" x="456" y="1063"/><use id="c130b" href="#r1" x="490" y="1064"/></g>
<g id="c131"><use id="c131a" href="#r1" x="322" y="1140"/><use id="c131b" href="#r1" x="355" y="1134"/></g>
<g id="c132"><use id="c132a" href="#r1" x="422" y="1113"/><use id="c132b" href="#r1" x="409" y="1149"/></g>
<g id="c133"><use id="c133a" href="#g1" x="483" y="1121"/><use id="c133b" href="#g1" x="467" y="1155"/></g>
<g id="c134"><use id="c134a" href="#g1" x="537" y="1113"/><use id="c134b" href="#g1" x="534" y="1152"/></g>
<g id="c135"><use id="c135a" href="#r5" x="680" y="952"/><use id="c135b" href="#r5" x="702" y="972"/><use id="c135c" href="#r5" x="697" y="1000"/><use id="c135d" href="#r5" x="672" y="1005"/><use id="c135e" href="#r5" x="655" y="979"/><use id="c135f" href="#r5" x="676" y="975"/></g>
<g id="c136"><use id="c136a" href="#r2" x="785" y="942"/><use id="c136b" href="#r2" x="758" y="973"/><use id="c136c" href="#r2" x="792" y="979"/></g>
<g id="c137"><use id="c137a" href="#r2" x="615" y="1032"/><use id="c137b" href="#r2" x="609" y="1069"/><use id="c137c" href="#r2" x="643" y="1061"/></g>
<g id="c138"><use id="c138a" href="#r2" x="729" y="1060"/><use id="c138b" href="#r2" x="762" y="1053"/><use id="c138c" href="#r2" x="755" y="1091"/></g>
<g id="c139"><use id="c139a" href="#g1" x="822" y="1040"/><use id="c139b" href="#g1" x="815" y="1078"/></g>
<g id="c140"><use id="c140a" href="#r1" x="876" y="1053"/><use id="c140b" href="#r1" x="876" y="1091"/></g>
<g id="c141"><use id="c141a" href="#r2" x="590" y="1119"/><use id="c141b" href="#r2" x="621" y="1142"/><use id="c141c" href="#r2" x="590" y="1155"/></g>
<g id="c142"><use id="c142a" href="#r1" x="693" y="1124"/><use id="c142b" href="#r1" x="675" y="1159"/></g>
<g id="c143"><use id="c143a" href="#r1" x="925" y="961"/><use id="c143b" href="#r1" x="899" y="992"/></g>
</g>
<g id="legend">
<circle cx="957" cy="1109" r="10.5" fill="#1fe61f"/>
<text class="lg" x="971" y="1120">Static network</text>
<circle cx="957" cy="1148" r="10.5" fill="#f0161e"/>
<text class="lg" x="971" y="1159">Dynamic network</text>
</g>
</svg>
